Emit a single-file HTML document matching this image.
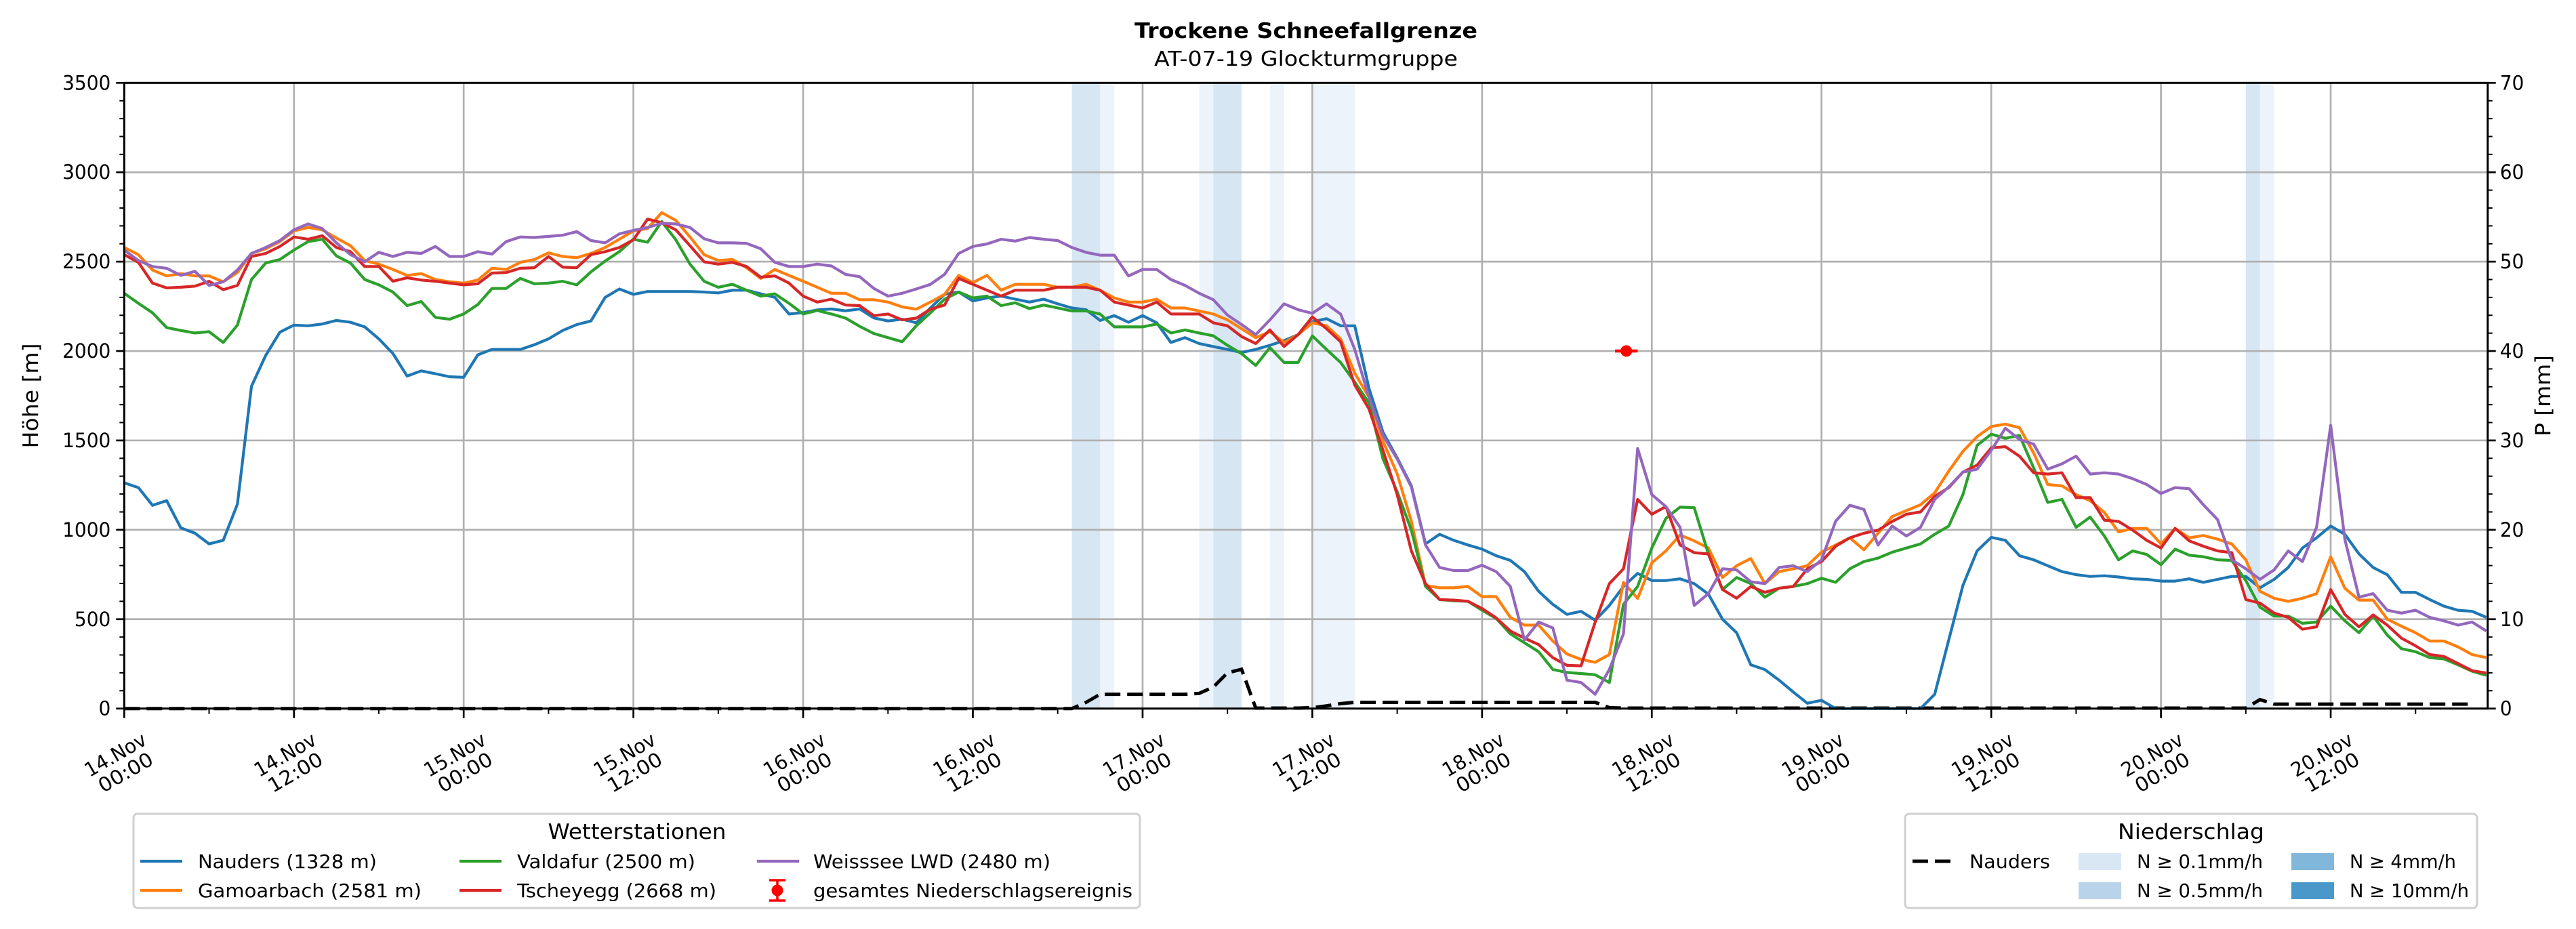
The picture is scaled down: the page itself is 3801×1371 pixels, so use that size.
<!DOCTYPE html>
<html><head><meta charset="utf-8">
<style>
html,body{margin:0;padding:0;background:#fff;}
svg{display:block;font-family:"DejaVu Sans","Liberation Sans",sans-serif;}
</style></head>
<body>
<svg id="chart" width="3801" height="1371" viewBox="0 0 3801 1371" xmlns="http://www.w3.org/2000/svg">
<text x="1927" y="56" text-anchor="middle" font-size="31" font-weight="bold" textLength="506" lengthAdjust="spacingAndGlyphs">Trockene Schneefallgrenze</text>
<text x="1927" y="97" text-anchor="middle" font-size="30" textLength="448" lengthAdjust="spacingAndGlyphs">AT-07-19 Glockturmgruppe</text>
<g id="plot"></g>
</svg>
<script>
// ---- data (hourly, starting 14.Nov 00:00) ----
const nauders = [1263,1236,1137,1163,1011,981,921,941,1143,1803,1975,2105,2145,2141,2151,2171,2161,2135,2068,1986,1860,1889,1873,1856,1853,1979,2009,2009,2009,2035,2068,2115,2148,2168,2300,2347,2317,2333,2333,2333,2333,2330,2325,2340,2340,2320,2300,2207,2215,2230,2235,2225,2235,2185,
2168,2178,2158,2241,2317,2330,2280,2297,2307,2290,2274,2290,2264,2241,2231,2171,2198,2161,2198,2158,2048,2075,2042,2025,2009,1992,2009,2032,2058,2092,2164,2181,2141,2141,1793,1545,1402,1246,921,975,941,915,892,855,829,766,656,583,527,544,494,577,683,756,716,716,726,699,640,500,424,245,
218,159,93,30,46,0,0,0,0,0,0,0,80,384,689,882,958,941,855,832,799,766,749,739,743,736,726,723,713,713,726,706,723,739,739,676,723,789,898,955,1021,975,865,789,749,650,650,610,573,550,544,510];
const gamoarbach = [2579,2539,2453,2420,2433,2420,2420,2387,2439,2546,2572,2612,2672,2691,2678,2632,2589,2506,2486,2456,2423,2433,2400,2387,2380,2397,2463,2456,2496,2512,2549,2529,2522,2546,2579,2625,2672,2685,2774,2731,2638,2539,2506,2512,2466,2406,2456,2423,2390,2357,2323,2323,2287,2287,
2274,2247,2234,2274,2317,2423,2383,2423,2340,2373,2373,2373,2357,2357,2373,2340,2297,2274,2274,2290,2241,2241,2224,2207,2174,2125,2075,2108,2048,2092,2158,2141,2068,1876,1743,1495,1313,1048,689,676,676,683,626,626,510,467,467,378,305,275,259,302,706,616,815,882,971,938,898,733,799,839,
699,766,782,799,875,915,955,888,981,1074,1107,1140,1207,1329,1439,1521,1578,1591,1571,1429,1253,1246,1197,1163,1097,988,1008,1008,921,1008,955,968,948,921,832,656,617,600,617,643,849,673,607,607,500,461,424,378,378,345,302,285];
const valdafur = [2323,2267,2214,2131,2115,2101,2108,2048,2145,2400,2492,2512,2565,2612,2625,2532,2492,2400,2370,2330,2254,2277,2188,2178,2207,2260,2350,2350,2406,2376,2380,2390,2370,2443,2503,2556,2625,2609,2724,2622,2486,2390,2357,2373,2340,2307,2320,2267,2207,2227,2207,2184,2138,2098,
2075,2052,2141,2214,2290,2330,2297,2307,2254,2270,2237,2257,2241,2224,2224,2207,2135,2135,2135,2151,2101,2118,2101,2085,2032,1985,1919,2019,1936,1936,2085,2009,1936,1826,1710,1396,1213,998,683,610,603,600,550,504,418,368,318,219,202,196,189,146,583,683,898,1064,1127,1124,865,666,733,699,
623,673,683,699,729,706,782,822,842,875,898,921,975,1021,1197,1472,1535,1512,1528,1346,1153,1170,1014,1071,965,832,882,862,805,892,858,849,832,829,716,567,517,517,477,484,573,491,424,517,411,335,318,285,278,245,209,186];
const tscheyegg = [2539,2496,2380,2353,2357,2363,2390,2343,2367,2529,2546,2585,2638,2625,2645,2579,2556,2473,2473,2390,2410,2397,2390,2380,2370,2376,2436,2439,2463,2466,2529,2469,2466,2539,2556,2579,2622,2738,2718,2678,2589,2499,2486,2496,2473,2413,2420,2380,2307,2274,2290,2257,2254,2198,
2207,2174,2184,2234,2257,2406,2373,2340,2307,2340,2340,2340,2357,2357,2357,2340,2274,2257,2241,2274,2207,2207,2207,2158,2141,2081,2042,2118,2025,2092,2191,2125,2052,1810,1677,1445,1197,882,699,610,607,600,560,507,434,394,358,285,242,239,484,699,782,1170,1087,1130,915,872,865,666,617,683,
650,673,683,782,822,908,955,981,998,1047,1087,1100,1187,1236,1323,1362,1458,1465,1412,1319,1312,1319,1180,1180,1054,1047,998,941,898,1008,938,908,882,872,610,590,534,510,444,457,666,527,457,524,467,394,351,302,292,252,212,199];
const weisssee = [2565,2506,2473,2463,2423,2446,2367,2387,2453,2546,2579,2618,2678,2711,2685,2605,2539,2499,2552,2529,2552,2546,2585,2529,2529,2556,2542,2612,2638,2635,2641,2648,2668,2618,2605,2655,2675,2691,2715,2711,2691,2628,2605,2605,2602,2572,2496,2473,2473,2486,2476,2429,2416,2350,
2307,2323,2347,2373,2429,2546,2585,2599,2625,2615,2635,2625,2618,2579,2552,2536,2536,2420,2456,2456,2400,2367,2323,2287,2201,2148,2092,2174,2264,2231,2211,2264,2207,2009,1743,1528,1396,1240,915,789,772,772,802,766,683,384,484,451,159,146,80,219,418,1455,1197,1130,1014,577,643,782,776,709,
699,789,799,766,832,1048,1137,1114,915,1021,965,1014,1170,1240,1323,1339,1445,1568,1505,1479,1339,1369,1412,1312,1319,1312,1286,1253,1203,1236,1230,1140,1057,832,782,723,776,882,822,1014,1584,948,623,643,550,534,550,510,491,467,484,434];
// cumulative precipitation Nauders [mm], hours 0..167
const naudersP = [0,0,0,0,0,0,0,0,0,0,0,0,0,0,0,0,0,0,0,0,0,0,0,0,0,0,0,0,0,0,0,0,0,0,0,0,0,0,0,0,0,0,0,0,0,0,0,0,0,0,0,0,0,0,0,0,0,0,0,0,0,0,0,0,0,0,0,
0,0.7,1.6,1.6,1.6,1.6,1.6,1.6,1.6,1.7,2.4,4.0,4.4,0.05,0.05,0.05,0.05,0.1,0.3,0.55,0.7,0.7,0.7,0.7,0.7,0.7,0.7,0.7,0.7,0.7,0.7,0.7,0.7,0.7,0.7,0.7,0.7,0.7,0.1,
0.05,0.05,0.05,0.05,0.05,0.05,0.05,0.05,0.05,0.05,0.05,0.05,0.05,0.05,0.05,0.05,0.05,0.05,0.05,0.05,0.05,0.05,0.05,0.05,0.05,0.05,0.05,0.05,0.05,0.05,0.05,0.05,0.05,0.05,0.05,0.05,0.05,0.05,0.05,0.05,0.05,0.05,0.05,0.05,0.05,1.0,0.5,0.5,0.5,0.5,0.5,0.5,0.5,0.5,0.5,0.5,0.5,0.5,0.5,0.5,0.5];
// precipitation intensity spans (hours)
const spanStart = [67,69,76,77,81,84,150,151];
const spanEnd   = [69,70,77,79,82,87,151,152];
const spanLevel = ["0.5","0.1","0.1","0.5","0.1","0.1","0.5","0.1"];
// total precipitation event marker
const eventHour = [106.2];
const eventHeight = [2000];
const eventErr = [0.8];
// axis ticks
const yTicks = [0,500,1000,1500,2000,2500,3000,3500];
const pTicks = [0,10,20,30,40,50,60,70];
const xTickHours = [0,12,24,36,48,60,72,84,96,108,120,132,144,156];
const xTickLabels = [["14.Nov","00:00"],["14.Nov","12:00"],["15.Nov","00:00"],["15.Nov","12:00"],["16.Nov","00:00"],["16.Nov","12:00"],["17.Nov","00:00"],["17.Nov","12:00"],["18.Nov","00:00"],["18.Nov","12:00"],["19.Nov","00:00"],["19.Nov","12:00"],["20.Nov","00:00"],["20.Nov","12:00"]];

const NS="http://www.w3.org/2000/svg";
const L=183.3,R=3670.7,T=122.3,B=1045.7;
const HMAX=167.1, YMAX=3500, PMAX=70;
const xs=h=>L+(R-L)*h/HMAX;
const ys=v=>B-(B-T)*v/YMAX;
const yp=v=>B-(B-T)*v/PMAX;
const plot=document.getElementById('plot');
function mk(tag,attrs,parent){const e=document.createElementNS(NS,tag);for(const k in attrs)e.setAttribute(k,attrs[k]);(parent||plot).appendChild(e);return e;}

const spanColor={"0.1":"#edf3fa","0.5":"#d6e6f3","4":"#80b7da","10":"#4a97c9"};
for(let i=0;i<spanStart.length;i++){
  const r=mk('rect',{x:xs(spanStart[i]),y:T,width:xs(spanEnd[i])-xs(spanStart[i]),height:B-T,fill:spanColor[spanLevel[i]]});
  
  
}
for(const v of yTicks){const g=mk('line',{x1:L,x2:R,y1:ys(v),y2:ys(v),stroke:'#b0b0b0','stroke-width':2.7});
  
  }
for(const h of xTickHours){const g=mk('line',{x1:xs(h),x2:xs(h),y1:T,y2:B,stroke:'#b0b0b0','stroke-width':2.7});
  
  }

function path(arr,scale){let d='';arr.forEach((v,i)=>{d+=(i?'L':'M')+xs(i).toFixed(1)+','+scale(v).toFixed(1);});return d;}
const pd=mk('path',{d:path(naudersP,yp),fill:'none',stroke:'#000','stroke-width':5,'stroke-dasharray':'23 10'});



const series=[[nauders,'#1f77b4','nauders-line'],[gamoarbach,'#ff7f0e','gamoarbach-line'],[valdafur,'#2ca02c','valdafur-line'],[tscheyegg,'#d62728','tscheyegg-line'],[weisssee,'#9467bd','weisssee-line']];
for(const s of series){
  const p=mk('path',{d:path(s[0],ys),fill:'none',stroke:s[1],'stroke-width':4.2,'stroke-linejoin':'round'});
  
  
}
for(let i=0;i<eventHour.length;i++){
  const eb=mk('line',{x1:xs(eventHour[i]-eventErr[i]),x2:xs(eventHour[i]+eventErr[i]),y1:ys(eventHeight[i]),y2:ys(eventHeight[i]),stroke:'#ff0000','stroke-width':4.5});
  
  
  const c=mk('circle',{cx:xs(eventHour[i]),cy:ys(eventHeight[i]),r:8.5,fill:'#ff0000'});
  
  
}
const sp=mk('rect',{x:L,y:T,width:R-L,height:B-T,fill:'none',stroke:'#000','stroke-width':3});



for(let v=0;v<=YMAX;v+=100){const maj=v%500===0;mk('line',{x1:L,x2:L-(maj?12:7),y1:ys(v),y2:ys(v),stroke:'#000','stroke-width':maj?2.7:2});}
for(const v of yTicks){const t=mk('text',{x:L-20,y:ys(v)+10,'text-anchor':'end','font-size':29,textLength:String(v).length*17.8,lengthAdjust:'spacingAndGlyphs'});t.textContent=v;
  
  }
for(let v=0;v<=PMAX;v+=2){const maj=v%10===0;mk('line',{x1:R,x2:R+(maj?12:7),y1:yp(v),y2:yp(v),stroke:'#000','stroke-width':maj?2.7:2});}
for(const v of pTicks){const t=mk('text',{x:R+18,y:yp(v)+10,'text-anchor':'start','font-size':29,textLength:String(v).length*17.8,lengthAdjust:'spacingAndGlyphs'});t.textContent=v;
  
  }
for(let h=0;h<=HMAX;h+=6){const maj=h%12===0;mk('line',{x1:xs(h),x2:xs(h),y1:B,y2:B+(maj?14:8),stroke:'#000','stroke-width':maj?2.7:2});}
xTickHours.forEach((h,i)=>{
  const cx=xs(h)-6, cy=1126;
  const t=mk('text',{x:cx,y:cy,'text-anchor':'middle','font-size':29,transform:`rotate(-30 ${cx} ${cy})`});
  
  
  const a=mk('tspan',{x:cx,dy:-4,textLength:100,lengthAdjust:'spacingAndGlyphs'},t);a.textContent=xTickLabels[i][0];
  const b=mk('tspan',{x:cx,dy:30,textLength:88,lengthAdjust:'spacingAndGlyphs'},t);b.textContent=xTickLabels[i][1];
});
const yl=mk('text',{x:0,y:0,'text-anchor':'middle','font-size':31,textLength:155,lengthAdjust:'spacingAndGlyphs',transform:`translate(56 ${(T+B)/2}) rotate(-90)`});yl.textContent='Höhe [m]';


const yr=mk('text',{x:0,y:0,'text-anchor':'middle','font-size':31,textLength:120,lengthAdjust:'spacingAndGlyphs',transform:`translate(3763 ${(T+B)/2}) rotate(-90)`});yr.textContent='P [mm]';



function box(x,y,w,h,name){const r=mk('rect',{x:x,y:y,width:w,height:h,rx:6,fill:'#fff',stroke:'#d0d0d0','stroke-width':3});
  
  }
function txt(x,y,s,size,len,name){const t=mk('text',{x:x,y:y,'font-size':size,textLength:len,lengthAdjust:'spacingAndGlyphs'});t.textContent=s;
  
  return t;}
box(197,1201,1485,139,'station-legend');
const lt=txt(940,1238,'Wetterstationen',31,263,'station-legend-title');lt.setAttribute('text-anchor','middle');
const entries=[[207,292,1271,'#1f77b4','Nauders (1328 m)',264],[207,292,1314,'#ff7f0e','Gamoarbach (2581 m)',330],[678,763,1271,'#2ca02c','Valdafur (2500 m)',263],[678,763,1314,'#d62728','Tscheyegg (2668 m)',294],[1117,1200,1271,'#9467bd','Weisssee LWD (2480 m)',350]];
for(const e of entries){mk('line',{x1:e[0],x2:e[0]+62,y1:e[2],y2:e[2],stroke:e[3],'stroke-width':4.2});
  txt(e[1],e[2]+10,e[4],28,e[5],'legend-entry');}
mk('line',{x1:1147,x2:1147,y1:1299,y2:1329,stroke:'#ff0000','stroke-width':3.5});
mk('line',{x1:1135,x2:1159,y1:1299,y2:1299,stroke:'#ff0000','stroke-width':3.5});
mk('line',{x1:1135,x2:1159,y1:1329,y2:1329,stroke:'#ff0000','stroke-width':3.5});
mk('circle',{cx:1147,cy:1314,r:8.5,fill:'#ff0000'});
txt(1200,1324,'gesamtes Niederschlagsereignis',28,471,'legend-entry');

box(2811,1201,844,139,'precip-legend');
const pt=txt(3233,1238,'Niederschlag',31,216,'precip-legend-title');pt.setAttribute('text-anchor','middle');
mk('line',{x1:2822,x2:2880,y1:1271,y2:1271,stroke:'#000','stroke-width':5,'stroke-dasharray':'23 10'});
txt(2906,1281,'Nauders',28,119,'legend-entry');
const patches=[[3067,3153,1271,'#d9e7f4','N ≥ 0.1mm/h',186],[3067,3153,1314,'#b9d4ea','N ≥ 0.5mm/h',186],[3381,3467,1271,'#80b7da','N ≥ 4mm/h',157],[3381,3467,1314,'#4a97c9','N ≥ 10mm/h',176]];
for(const p of patches){mk('rect',{x:p[0],y:p[2]-12,width:63,height:25,fill:p[3]});
  txt(p[1],p[2]+10,p[4],28,p[5],'legend-entry');}
</script>
</body></html>
